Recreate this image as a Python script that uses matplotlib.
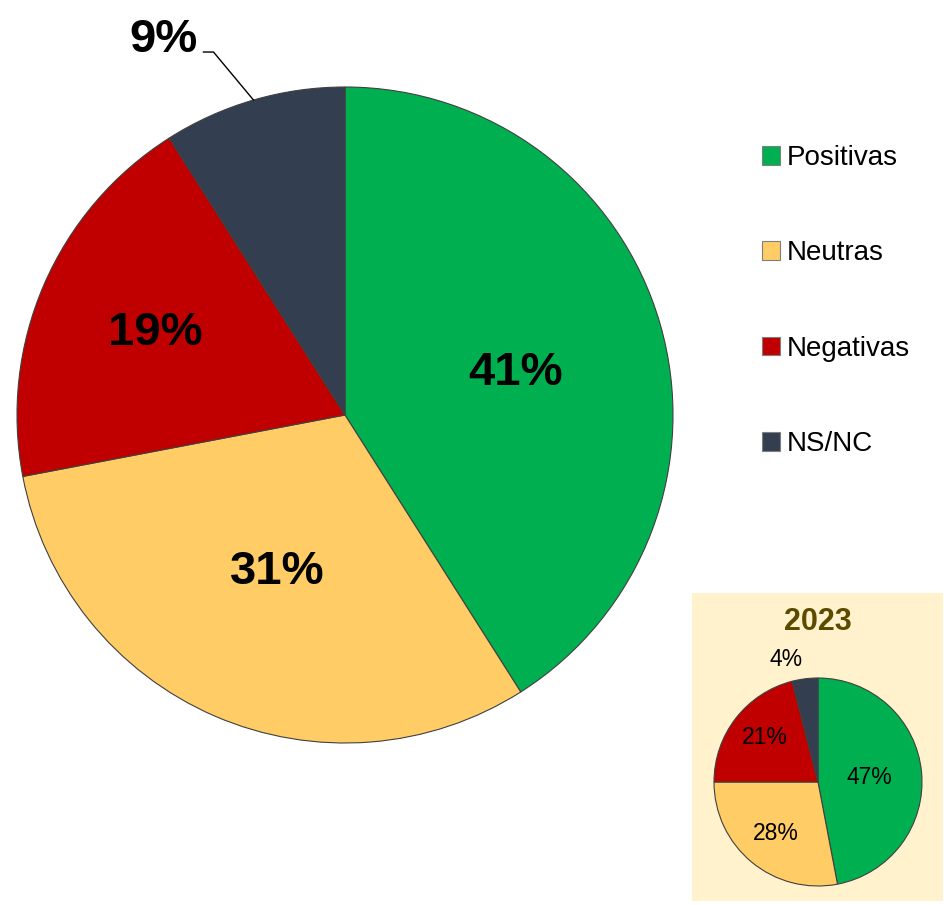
import matplotlib
matplotlib.use("Agg")
import matplotlib.pyplot as plt
from matplotlib.patches import Rectangle
import numpy as np

plt.rcParams['font.family'] = ['Liberation Sans', 'DejaVu Sans']

categories = ["Positivas", "Neutras", "Negativas", "NS/NC"]
values_now = [41, 31, 19, 9]
values_2023 = [47, 28, 21, 4]
inset_title = "2023"

colors = ["#00B050", "#FFCC66", "#C00000", "#333F50"]
edge = "#404040"

W, H = 944, 905
fig = plt.figure(figsize=(W / 100, H / 100), dpi=100)

# pale panel behind the 2023 inset
fig.patches.append(Rectangle((692 / W, (H - 901) / H), 251 / W, 308 / H,
                             transform=fig.transFigure, facecolor="#FFF2CC",
                             edgecolor="none", zorder=-5))


def px_axes(cx, cy, r):
    return fig.add_axes([(cx - r) / W, (H - cy - r) / H, 2 * r / W, 2 * r / H])


def label_inside(ax, wedges, values, dists, turns, **kw):
    for w, v, d, t in zip(wedges, values, dists, turns):
        ang = np.deg2rad((w.theta1 + w.theta2) / 2 + t)
        ax.text(d * np.cos(ang), d * np.sin(ang), f"{v}%", ha="center",
                va="center", **kw)


# ---- main pie ----
R = 328
ax = px_axes(345, 415, R)
wedges, _ = ax.pie(values_now, colors=colors, startangle=90, counterclock=False,
                   wedgeprops=dict(edgecolor=edge, linewidth=0.8))
ax.set_xlim(-1, 1)
ax.set_ylim(-1, 1)
ax.set_aspect("equal")
ax.axis("off")

label_inside(ax, wedges[:3], values_now[:3], [0.535, 0.52, 0.63], [-2.5, 0, 0],
             fontsize=34, fontweight="bold", color="black")

# small slice labelled outside with a leader line
w = wedges[3]
ang = np.deg2rad((w.theta1 + w.theta2) / 2)
x0, y0 = np.cos(ang), np.sin(ang)
xc, yc = x0 - 40 / R, y0 + 48 / R
xe = xc - 10 / R
ax.plot([x0, xc, xe], [y0, yc, yc], color="black", lw=1, clip_on=False)
ax.text(xe - 6 / R, yc, f"{values_now[3]}%", ha="right", va="baseline",
        fontsize=34, fontweight="bold", color="black")

# ---- legend ----
handles = [Rectangle((0, 0), 1, 1, facecolor=c, edgecolor="#7f7f7f", linewidth=0.8)
           for c in colors]
fig.legend(handles, categories, loc="upper left",
           bbox_to_anchor=(762 / W, 1 - 145 / H), frameon=False,
           fontsize=20, handlelength=0.65, handleheight=0.65, handletextpad=0.25,
           labelspacing=2.5, borderpad=0, borderaxespad=0)

# ---- inset for 2023 ----
fig.text(818 / W, 1 - 622 / H, inset_title, ha="center", va="center",
         fontsize=22, fontweight="bold", color="#5C4A00")

r2 = 104
ax2 = px_axes(818, 782, r2)
w2, _ = ax2.pie(values_2023, colors=colors, startangle=90, counterclock=False,
                wedgeprops=dict(edgecolor=edge, linewidth=0.8))
ax2.set_xlim(-1, 1)
ax2.set_ylim(-1, 1)
ax2.set_aspect("equal")
ax2.axis("off")

label_inside(ax2, w2[:3], values_2023[:3], [0.5, 0.64, 0.67], [0, 0, -2],
             fontsize=16.5, color="black")
w = w2[3]
ang = np.deg2rad((w.theta1 + w.theta2) / 2)
ax2.text(1.16 * np.cos(ang), 1.19 * np.sin(ang), f"{values_2023[3]}%",
         ha="right", va="center", fontsize=16.5, color="black")

fig.savefig("out.png", dpi=100)
